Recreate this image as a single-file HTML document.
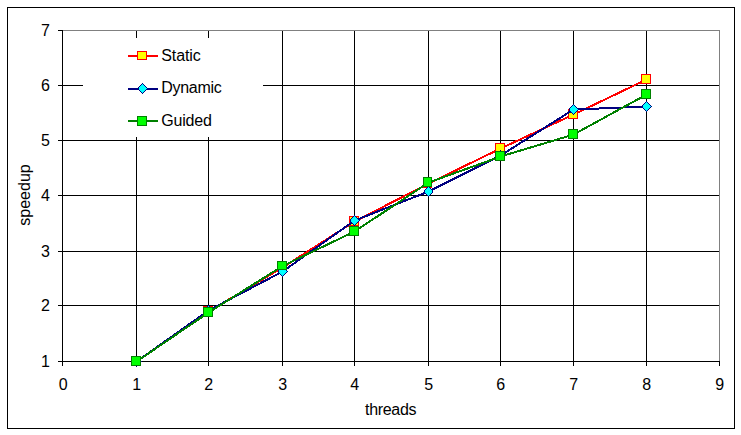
<!DOCTYPE html>
<html><head><meta charset="utf-8"><title>speedup</title>
<style>html,body{margin:0;padding:0;background:#fff;overflow:hidden}svg{display:block}text{font-family:"Liberation Sans",sans-serif;font-size:16px;fill:#000}</style>
</head><body>
<svg width="741" height="435" viewBox="0 0 741 435">
<rect x="0" y="0" width="741" height="435" fill="#fff"/>
<g shape-rendering="crispEdges">
<rect x="7.5" y="7.5" width="727" height="421" fill="none" stroke="#000" stroke-width="1"/>
<rect x="136" y="31" width="1" height="330" fill="#000"/>
<rect x="208" y="31" width="1" height="330" fill="#000"/>
<rect x="282" y="31" width="1" height="330" fill="#000"/>
<rect x="354" y="31" width="1" height="330" fill="#000"/>
<rect x="428" y="31" width="1" height="330" fill="#000"/>
<rect x="500" y="31" width="1" height="330" fill="#000"/>
<rect x="573" y="31" width="1" height="330" fill="#000"/>
<rect x="646" y="31" width="1" height="330" fill="#000"/>
<rect x="63" y="305" width="656" height="1" fill="#000"/>
<rect x="63" y="251" width="656" height="1" fill="#000"/>
<rect x="63" y="195" width="656" height="1" fill="#000"/>
<rect x="63" y="140" width="656" height="1" fill="#000"/>
<rect x="63" y="85" width="656" height="1" fill="#000"/>
<rect x="62" y="30" width="658" height="1" fill="#808080"/>
<rect x="719" y="30" width="1" height="332" fill="#808080"/>
<rect x="62" y="30" width="1" height="332" fill="#000"/>
<rect x="62" y="361" width="657" height="1" fill="#000"/>
<rect x="58" y="361" width="5" height="1" fill="#000"/>
<rect x="58" y="305" width="5" height="1" fill="#000"/>
<rect x="58" y="251" width="5" height="1" fill="#000"/>
<rect x="58" y="195" width="5" height="1" fill="#000"/>
<rect x="58" y="140" width="5" height="1" fill="#000"/>
<rect x="58" y="85" width="5" height="1" fill="#000"/>
<rect x="58" y="30" width="5" height="1" fill="#000"/>
<rect x="62" y="361" width="1" height="5" fill="#000"/>
<rect x="136" y="361" width="1" height="5" fill="#000"/>
<rect x="208" y="361" width="1" height="5" fill="#000"/>
<rect x="282" y="361" width="1" height="5" fill="#000"/>
<rect x="354" y="361" width="1" height="5" fill="#000"/>
<rect x="428" y="361" width="1" height="5" fill="#000"/>
<rect x="500" y="361" width="1" height="5" fill="#000"/>
<rect x="573" y="361" width="1" height="5" fill="#000"/>
<rect x="646" y="361" width="1" height="5" fill="#000"/>
<rect x="719" y="361" width="1" height="5" fill="#000"/>
<polyline points="136.5,361.55 208.5,311.55 282.5,267.55 354.5,221.55 428.5,183.55 500.5,148.55 573.5,114.55 646.5,79.55" fill="none" stroke="#ff0000" stroke-width="2" stroke-linejoin="miter"/>
<rect x="131" y="356" width="10" height="10" fill="#ff0000"/>
<rect x="132" y="357" width="8" height="8" fill="#ffff00"/>
<rect x="203" y="306" width="10" height="10" fill="#ff0000"/>
<rect x="204" y="307" width="8" height="8" fill="#ffff00"/>
<rect x="277" y="262" width="10" height="10" fill="#ff0000"/>
<rect x="278" y="263" width="8" height="8" fill="#ffff00"/>
<rect x="349" y="216" width="10" height="10" fill="#ff0000"/>
<rect x="350" y="217" width="8" height="8" fill="#ffff00"/>
<rect x="423" y="178" width="9" height="10" fill="#ff0000"/>
<rect x="424" y="179" width="7" height="8" fill="#ffff00"/>
<rect x="495" y="143" width="10" height="10" fill="#ff0000"/>
<rect x="496" y="144" width="8" height="8" fill="#ffff00"/>
<rect x="568" y="109" width="10" height="10" fill="#ff0000"/>
<rect x="569" y="110" width="8" height="8" fill="#ffff00"/>
<rect x="641" y="74" width="10" height="10" fill="#ff0000"/>
<rect x="642" y="75" width="8" height="8" fill="#ffff00"/>
<polyline points="136.5,361.55 208.5,310.55 282.5,271.55 354.5,220.55 428.5,191.55 500.5,155.55 573.5,109.55 646.5,106.55" fill="none" stroke="#000080" stroke-width="2" stroke-linejoin="miter"/>
<rect x="136" y="356" width="1" height="1" fill="#000080"/>
<rect x="135" y="357" width="1" height="1" fill="#000080"/>
<rect x="137" y="357" width="1" height="1" fill="#000080"/>
<rect x="136" y="357" width="1" height="1" fill="#00ffff"/>
<rect x="134" y="358" width="1" height="1" fill="#000080"/>
<rect x="138" y="358" width="1" height="1" fill="#000080"/>
<rect x="135" y="358" width="3" height="1" fill="#00ffff"/>
<rect x="133" y="359" width="1" height="1" fill="#000080"/>
<rect x="139" y="359" width="1" height="1" fill="#000080"/>
<rect x="134" y="359" width="5" height="1" fill="#00ffff"/>
<rect x="132" y="360" width="1" height="1" fill="#000080"/>
<rect x="140" y="360" width="1" height="1" fill="#000080"/>
<rect x="133" y="360" width="7" height="1" fill="#00ffff"/>
<rect x="132" y="361" width="1" height="1" fill="#000080"/>
<rect x="141" y="361" width="1" height="1" fill="#000080"/>
<rect x="133" y="361" width="8" height="1" fill="#00ffff"/>
<rect x="132" y="362" width="1" height="1" fill="#000080"/>
<rect x="140" y="362" width="1" height="1" fill="#000080"/>
<rect x="133" y="362" width="7" height="1" fill="#00ffff"/>
<rect x="133" y="363" width="1" height="1" fill="#000080"/>
<rect x="139" y="363" width="1" height="1" fill="#000080"/>
<rect x="134" y="363" width="5" height="1" fill="#00ffff"/>
<rect x="134" y="364" width="1" height="1" fill="#000080"/>
<rect x="138" y="364" width="1" height="1" fill="#000080"/>
<rect x="135" y="364" width="3" height="1" fill="#00ffff"/>
<rect x="135" y="365" width="1" height="1" fill="#000080"/>
<rect x="137" y="365" width="1" height="1" fill="#000080"/>
<rect x="136" y="365" width="1" height="1" fill="#00ffff"/>
<rect x="136" y="366" width="1" height="1" fill="#000080"/>
<rect x="208" y="305" width="1" height="1" fill="#000080"/>
<rect x="207" y="306" width="1" height="1" fill="#000080"/>
<rect x="209" y="306" width="1" height="1" fill="#000080"/>
<rect x="208" y="306" width="1" height="1" fill="#00ffff"/>
<rect x="206" y="307" width="1" height="1" fill="#000080"/>
<rect x="210" y="307" width="1" height="1" fill="#000080"/>
<rect x="207" y="307" width="3" height="1" fill="#00ffff"/>
<rect x="205" y="308" width="1" height="1" fill="#000080"/>
<rect x="211" y="308" width="1" height="1" fill="#000080"/>
<rect x="206" y="308" width="5" height="1" fill="#00ffff"/>
<rect x="204" y="309" width="1" height="1" fill="#000080"/>
<rect x="212" y="309" width="1" height="1" fill="#000080"/>
<rect x="205" y="309" width="7" height="1" fill="#00ffff"/>
<rect x="204" y="310" width="1" height="1" fill="#000080"/>
<rect x="213" y="310" width="1" height="1" fill="#000080"/>
<rect x="205" y="310" width="8" height="1" fill="#00ffff"/>
<rect x="204" y="311" width="1" height="1" fill="#000080"/>
<rect x="212" y="311" width="1" height="1" fill="#000080"/>
<rect x="205" y="311" width="7" height="1" fill="#00ffff"/>
<rect x="205" y="312" width="1" height="1" fill="#000080"/>
<rect x="211" y="312" width="1" height="1" fill="#000080"/>
<rect x="206" y="312" width="5" height="1" fill="#00ffff"/>
<rect x="206" y="313" width="1" height="1" fill="#000080"/>
<rect x="210" y="313" width="1" height="1" fill="#000080"/>
<rect x="207" y="313" width="3" height="1" fill="#00ffff"/>
<rect x="207" y="314" width="1" height="1" fill="#000080"/>
<rect x="209" y="314" width="1" height="1" fill="#000080"/>
<rect x="208" y="314" width="1" height="1" fill="#00ffff"/>
<rect x="208" y="315" width="1" height="1" fill="#000080"/>
<rect x="282" y="266" width="1" height="1" fill="#000080"/>
<rect x="281" y="267" width="1" height="1" fill="#000080"/>
<rect x="283" y="267" width="1" height="1" fill="#000080"/>
<rect x="282" y="267" width="1" height="1" fill="#00ffff"/>
<rect x="280" y="268" width="1" height="1" fill="#000080"/>
<rect x="284" y="268" width="1" height="1" fill="#000080"/>
<rect x="281" y="268" width="3" height="1" fill="#00ffff"/>
<rect x="279" y="269" width="1" height="1" fill="#000080"/>
<rect x="285" y="269" width="1" height="1" fill="#000080"/>
<rect x="280" y="269" width="5" height="1" fill="#00ffff"/>
<rect x="278" y="270" width="1" height="1" fill="#000080"/>
<rect x="286" y="270" width="1" height="1" fill="#000080"/>
<rect x="279" y="270" width="7" height="1" fill="#00ffff"/>
<rect x="278" y="271" width="1" height="1" fill="#000080"/>
<rect x="287" y="271" width="1" height="1" fill="#000080"/>
<rect x="279" y="271" width="8" height="1" fill="#00ffff"/>
<rect x="278" y="272" width="1" height="1" fill="#000080"/>
<rect x="286" y="272" width="1" height="1" fill="#000080"/>
<rect x="279" y="272" width="7" height="1" fill="#00ffff"/>
<rect x="279" y="273" width="1" height="1" fill="#000080"/>
<rect x="285" y="273" width="1" height="1" fill="#000080"/>
<rect x="280" y="273" width="5" height="1" fill="#00ffff"/>
<rect x="280" y="274" width="1" height="1" fill="#000080"/>
<rect x="284" y="274" width="1" height="1" fill="#000080"/>
<rect x="281" y="274" width="3" height="1" fill="#00ffff"/>
<rect x="281" y="275" width="1" height="1" fill="#000080"/>
<rect x="283" y="275" width="1" height="1" fill="#000080"/>
<rect x="282" y="275" width="1" height="1" fill="#00ffff"/>
<rect x="282" y="276" width="1" height="1" fill="#000080"/>
<rect x="354" y="215" width="1" height="1" fill="#000080"/>
<rect x="353" y="216" width="1" height="1" fill="#000080"/>
<rect x="355" y="216" width="1" height="1" fill="#000080"/>
<rect x="354" y="216" width="1" height="1" fill="#00ffff"/>
<rect x="352" y="217" width="1" height="1" fill="#000080"/>
<rect x="356" y="217" width="1" height="1" fill="#000080"/>
<rect x="353" y="217" width="3" height="1" fill="#00ffff"/>
<rect x="351" y="218" width="1" height="1" fill="#000080"/>
<rect x="357" y="218" width="1" height="1" fill="#000080"/>
<rect x="352" y="218" width="5" height="1" fill="#00ffff"/>
<rect x="350" y="219" width="1" height="1" fill="#000080"/>
<rect x="358" y="219" width="1" height="1" fill="#000080"/>
<rect x="351" y="219" width="7" height="1" fill="#00ffff"/>
<rect x="350" y="220" width="1" height="1" fill="#000080"/>
<rect x="359" y="220" width="1" height="1" fill="#000080"/>
<rect x="351" y="220" width="8" height="1" fill="#00ffff"/>
<rect x="350" y="221" width="1" height="1" fill="#000080"/>
<rect x="358" y="221" width="1" height="1" fill="#000080"/>
<rect x="351" y="221" width="7" height="1" fill="#00ffff"/>
<rect x="351" y="222" width="1" height="1" fill="#000080"/>
<rect x="357" y="222" width="1" height="1" fill="#000080"/>
<rect x="352" y="222" width="5" height="1" fill="#00ffff"/>
<rect x="352" y="223" width="1" height="1" fill="#000080"/>
<rect x="356" y="223" width="1" height="1" fill="#000080"/>
<rect x="353" y="223" width="3" height="1" fill="#00ffff"/>
<rect x="353" y="224" width="1" height="1" fill="#000080"/>
<rect x="355" y="224" width="1" height="1" fill="#000080"/>
<rect x="354" y="224" width="1" height="1" fill="#00ffff"/>
<rect x="354" y="225" width="1" height="1" fill="#000080"/>
<rect x="428" y="186" width="1" height="1" fill="#000080"/>
<rect x="427" y="187" width="1" height="1" fill="#000080"/>
<rect x="429" y="187" width="1" height="1" fill="#000080"/>
<rect x="428" y="187" width="1" height="1" fill="#00ffff"/>
<rect x="426" y="188" width="1" height="1" fill="#000080"/>
<rect x="430" y="188" width="1" height="1" fill="#000080"/>
<rect x="427" y="188" width="3" height="1" fill="#00ffff"/>
<rect x="425" y="189" width="1" height="1" fill="#000080"/>
<rect x="431" y="189" width="1" height="1" fill="#000080"/>
<rect x="426" y="189" width="5" height="1" fill="#00ffff"/>
<rect x="424" y="190" width="1" height="1" fill="#000080"/>
<rect x="432" y="190" width="1" height="1" fill="#000080"/>
<rect x="425" y="190" width="7" height="1" fill="#00ffff"/>
<rect x="424" y="191" width="1" height="1" fill="#000080"/>
<rect x="432" y="191" width="1" height="1" fill="#000080"/>
<rect x="425" y="191" width="7" height="1" fill="#00ffff"/>
<rect x="424" y="192" width="1" height="1" fill="#000080"/>
<rect x="432" y="192" width="1" height="1" fill="#000080"/>
<rect x="425" y="192" width="7" height="1" fill="#00ffff"/>
<rect x="425" y="193" width="1" height="1" fill="#000080"/>
<rect x="431" y="193" width="1" height="1" fill="#000080"/>
<rect x="426" y="193" width="5" height="1" fill="#00ffff"/>
<rect x="426" y="194" width="1" height="1" fill="#000080"/>
<rect x="430" y="194" width="1" height="1" fill="#000080"/>
<rect x="427" y="194" width="3" height="1" fill="#00ffff"/>
<rect x="427" y="195" width="1" height="1" fill="#000080"/>
<rect x="429" y="195" width="1" height="1" fill="#000080"/>
<rect x="428" y="195" width="1" height="1" fill="#00ffff"/>
<rect x="428" y="196" width="1" height="1" fill="#000080"/>
<rect x="500" y="150" width="1" height="1" fill="#000080"/>
<rect x="499" y="151" width="1" height="1" fill="#000080"/>
<rect x="501" y="151" width="1" height="1" fill="#000080"/>
<rect x="500" y="151" width="1" height="1" fill="#00ffff"/>
<rect x="498" y="152" width="1" height="1" fill="#000080"/>
<rect x="502" y="152" width="1" height="1" fill="#000080"/>
<rect x="499" y="152" width="3" height="1" fill="#00ffff"/>
<rect x="497" y="153" width="1" height="1" fill="#000080"/>
<rect x="503" y="153" width="1" height="1" fill="#000080"/>
<rect x="498" y="153" width="5" height="1" fill="#00ffff"/>
<rect x="496" y="154" width="1" height="1" fill="#000080"/>
<rect x="504" y="154" width="1" height="1" fill="#000080"/>
<rect x="497" y="154" width="7" height="1" fill="#00ffff"/>
<rect x="496" y="155" width="1" height="1" fill="#000080"/>
<rect x="505" y="155" width="1" height="1" fill="#000080"/>
<rect x="497" y="155" width="8" height="1" fill="#00ffff"/>
<rect x="496" y="156" width="1" height="1" fill="#000080"/>
<rect x="504" y="156" width="1" height="1" fill="#000080"/>
<rect x="497" y="156" width="7" height="1" fill="#00ffff"/>
<rect x="497" y="157" width="1" height="1" fill="#000080"/>
<rect x="503" y="157" width="1" height="1" fill="#000080"/>
<rect x="498" y="157" width="5" height="1" fill="#00ffff"/>
<rect x="498" y="158" width="1" height="1" fill="#000080"/>
<rect x="502" y="158" width="1" height="1" fill="#000080"/>
<rect x="499" y="158" width="3" height="1" fill="#00ffff"/>
<rect x="499" y="159" width="1" height="1" fill="#000080"/>
<rect x="501" y="159" width="1" height="1" fill="#000080"/>
<rect x="500" y="159" width="1" height="1" fill="#00ffff"/>
<rect x="500" y="160" width="1" height="1" fill="#000080"/>
<rect x="573" y="104" width="1" height="1" fill="#000080"/>
<rect x="572" y="105" width="1" height="1" fill="#000080"/>
<rect x="574" y="105" width="1" height="1" fill="#000080"/>
<rect x="573" y="105" width="1" height="1" fill="#00ffff"/>
<rect x="571" y="106" width="1" height="1" fill="#000080"/>
<rect x="575" y="106" width="1" height="1" fill="#000080"/>
<rect x="572" y="106" width="3" height="1" fill="#00ffff"/>
<rect x="570" y="107" width="1" height="1" fill="#000080"/>
<rect x="576" y="107" width="1" height="1" fill="#000080"/>
<rect x="571" y="107" width="5" height="1" fill="#00ffff"/>
<rect x="569" y="108" width="1" height="1" fill="#000080"/>
<rect x="577" y="108" width="1" height="1" fill="#000080"/>
<rect x="570" y="108" width="7" height="1" fill="#00ffff"/>
<rect x="569" y="109" width="1" height="1" fill="#000080"/>
<rect x="578" y="109" width="1" height="1" fill="#000080"/>
<rect x="570" y="109" width="8" height="1" fill="#00ffff"/>
<rect x="569" y="110" width="1" height="1" fill="#000080"/>
<rect x="577" y="110" width="1" height="1" fill="#000080"/>
<rect x="570" y="110" width="7" height="1" fill="#00ffff"/>
<rect x="570" y="111" width="1" height="1" fill="#000080"/>
<rect x="576" y="111" width="1" height="1" fill="#000080"/>
<rect x="571" y="111" width="5" height="1" fill="#00ffff"/>
<rect x="571" y="112" width="1" height="1" fill="#000080"/>
<rect x="575" y="112" width="1" height="1" fill="#000080"/>
<rect x="572" y="112" width="3" height="1" fill="#00ffff"/>
<rect x="572" y="113" width="1" height="1" fill="#000080"/>
<rect x="574" y="113" width="1" height="1" fill="#000080"/>
<rect x="573" y="113" width="1" height="1" fill="#00ffff"/>
<rect x="573" y="114" width="1" height="1" fill="#000080"/>
<rect x="646" y="101" width="1" height="1" fill="#000080"/>
<rect x="645" y="102" width="1" height="1" fill="#000080"/>
<rect x="647" y="102" width="1" height="1" fill="#000080"/>
<rect x="646" y="102" width="1" height="1" fill="#00ffff"/>
<rect x="644" y="103" width="1" height="1" fill="#000080"/>
<rect x="648" y="103" width="1" height="1" fill="#000080"/>
<rect x="645" y="103" width="3" height="1" fill="#00ffff"/>
<rect x="643" y="104" width="1" height="1" fill="#000080"/>
<rect x="649" y="104" width="1" height="1" fill="#000080"/>
<rect x="644" y="104" width="5" height="1" fill="#00ffff"/>
<rect x="642" y="105" width="1" height="1" fill="#000080"/>
<rect x="650" y="105" width="1" height="1" fill="#000080"/>
<rect x="643" y="105" width="7" height="1" fill="#00ffff"/>
<rect x="642" y="106" width="1" height="1" fill="#000080"/>
<rect x="651" y="106" width="1" height="1" fill="#000080"/>
<rect x="643" y="106" width="8" height="1" fill="#00ffff"/>
<rect x="642" y="107" width="1" height="1" fill="#000080"/>
<rect x="650" y="107" width="1" height="1" fill="#000080"/>
<rect x="643" y="107" width="7" height="1" fill="#00ffff"/>
<rect x="643" y="108" width="1" height="1" fill="#000080"/>
<rect x="649" y="108" width="1" height="1" fill="#000080"/>
<rect x="644" y="108" width="5" height="1" fill="#00ffff"/>
<rect x="644" y="109" width="1" height="1" fill="#000080"/>
<rect x="648" y="109" width="1" height="1" fill="#000080"/>
<rect x="645" y="109" width="3" height="1" fill="#00ffff"/>
<rect x="645" y="110" width="1" height="1" fill="#000080"/>
<rect x="647" y="110" width="1" height="1" fill="#000080"/>
<rect x="646" y="110" width="1" height="1" fill="#00ffff"/>
<rect x="646" y="111" width="1" height="1" fill="#000080"/>
<polyline points="136.5,361.55 208.5,312.55 282.5,266.05 354.5,231.55 428.5,182.55 500.5,156.55 573.5,134.55 646.5,94.55" fill="none" stroke="#008000" stroke-width="2" stroke-linejoin="miter"/>
<rect x="131" y="356" width="10" height="10" fill="#008000"/>
<rect x="132" y="357" width="8" height="8" fill="#00ff00"/>
<rect x="203" y="307" width="10" height="10" fill="#008000"/>
<rect x="204" y="308" width="8" height="8" fill="#00ff00"/>
<rect x="277" y="261" width="10" height="9" fill="#008000"/>
<rect x="278" y="262" width="8" height="7" fill="#00ff00"/>
<rect x="349" y="226" width="10" height="10" fill="#008000"/>
<rect x="350" y="227" width="8" height="8" fill="#00ff00"/>
<rect x="423" y="177" width="9" height="10" fill="#008000"/>
<rect x="424" y="178" width="7" height="8" fill="#00ff00"/>
<rect x="495" y="151" width="10" height="10" fill="#008000"/>
<rect x="496" y="152" width="8" height="8" fill="#00ff00"/>
<rect x="568" y="129" width="10" height="10" fill="#008000"/>
<rect x="569" y="130" width="8" height="8" fill="#00ff00"/>
<rect x="641" y="89" width="10" height="10" fill="#008000"/>
<rect x="642" y="90" width="8" height="8" fill="#00ff00"/>
<rect x="83" y="38" width="180" height="99" fill="#fff"/>
<rect x="128" y="55" width="30" height="2" fill="#ff0000"/>
<rect x="137" y="51" width="10" height="9" fill="#ff0000"/>
<rect x="138" y="52" width="8" height="7" fill="#ffff00"/>
<rect x="128" y="88" width="30" height="2" fill="#000080"/>
<rect x="142" y="83" width="1" height="1" fill="#000080"/>
<rect x="141" y="84" width="1" height="1" fill="#000080"/>
<rect x="143" y="84" width="1" height="1" fill="#000080"/>
<rect x="142" y="84" width="1" height="1" fill="#00ffff"/>
<rect x="140" y="85" width="1" height="1" fill="#000080"/>
<rect x="144" y="85" width="1" height="1" fill="#000080"/>
<rect x="141" y="85" width="3" height="1" fill="#00ffff"/>
<rect x="139" y="86" width="1" height="1" fill="#000080"/>
<rect x="145" y="86" width="1" height="1" fill="#000080"/>
<rect x="140" y="86" width="5" height="1" fill="#00ffff"/>
<rect x="138" y="87" width="1" height="1" fill="#000080"/>
<rect x="146" y="87" width="1" height="1" fill="#000080"/>
<rect x="139" y="87" width="7" height="1" fill="#00ffff"/>
<rect x="138" y="88" width="1" height="1" fill="#000080"/>
<rect x="147" y="88" width="1" height="1" fill="#000080"/>
<rect x="139" y="88" width="8" height="1" fill="#00ffff"/>
<rect x="138" y="89" width="1" height="1" fill="#000080"/>
<rect x="146" y="89" width="1" height="1" fill="#000080"/>
<rect x="139" y="89" width="7" height="1" fill="#00ffff"/>
<rect x="139" y="90" width="1" height="1" fill="#000080"/>
<rect x="145" y="90" width="1" height="1" fill="#000080"/>
<rect x="140" y="90" width="5" height="1" fill="#00ffff"/>
<rect x="140" y="91" width="1" height="1" fill="#000080"/>
<rect x="144" y="91" width="1" height="1" fill="#000080"/>
<rect x="141" y="91" width="3" height="1" fill="#00ffff"/>
<rect x="141" y="92" width="1" height="1" fill="#000080"/>
<rect x="143" y="92" width="1" height="1" fill="#000080"/>
<rect x="142" y="92" width="1" height="1" fill="#00ffff"/>
<rect x="142" y="93" width="1" height="1" fill="#000080"/>
<rect x="128" y="120" width="30" height="2" fill="#008000"/>
<rect x="137" y="116" width="10" height="10" fill="#008000"/>
<rect x="138" y="117" width="8" height="8" fill="#00ff00"/>
</g>
<text x="161.3" y="61" letter-spacing="-0.1">Static</text>
<text x="161.3" y="93" letter-spacing="-0.3">Dynamic</text>
<text x="161.3" y="126" letter-spacing="-0.2">Guided</text>
<text x="49.8" y="367" text-anchor="end">1</text>
<text x="49.8" y="311" text-anchor="end">2</text>
<text x="49.8" y="257" text-anchor="end">3</text>
<text x="49.8" y="201" text-anchor="end">4</text>
<text x="49.8" y="146" text-anchor="end">5</text>
<text x="49.8" y="91" text-anchor="end">6</text>
<text x="49.8" y="36" text-anchor="end">7</text>
<text x="63.3" y="390" text-anchor="middle">0</text>
<text x="136.6" y="390" text-anchor="middle">1</text>
<text x="208.6" y="390" text-anchor="middle">2</text>
<text x="282.6" y="390" text-anchor="middle">3</text>
<text x="354.6" y="390" text-anchor="middle">4</text>
<text x="428.6" y="390" text-anchor="middle">5</text>
<text x="500.6" y="390" text-anchor="middle">6</text>
<text x="573.6" y="390" text-anchor="middle">7</text>
<text x="646.6" y="390" text-anchor="middle">8</text>
<text x="719.6" y="390" text-anchor="middle">9</text>
<text x="365" y="415" letter-spacing="-0.3">threads</text>
<text transform="translate(30,195) rotate(-90)" text-anchor="middle">speedup</text>
</svg></body></html>
